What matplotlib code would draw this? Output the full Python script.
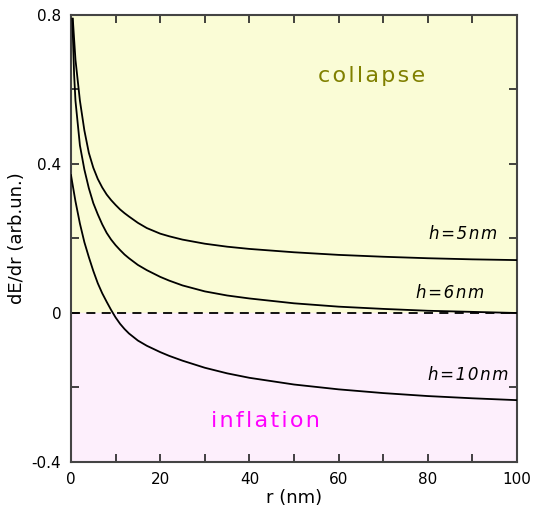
import numpy as np
import matplotlib.pyplot as plt

# dE/dr vs r for three shell thicknesses
r_h5 = [0.4, 1, 2, 3, 4, 5, 6, 7, 8, 9, 10, 11, 12, 13, 15, 17, 20, 22, 25, 30, 35, 40,
        50, 60, 70, 80, 90, 100]
dEdr_h5 = [0.79, 0.68, 0.57, 0.49, 0.43, 0.39, 0.36, 0.337, 0.318, 0.303, 0.29, 0.278,
           0.268, 0.259, 0.242, 0.228, 0.213, 0.206, 0.197, 0.186, 0.178, 0.172,
           0.163, 0.156, 0.151, 0.147, 0.144, 0.142]

r_h6 = [0.3, 0.7, 1, 2, 3, 4, 5, 6, 7, 8, 9, 10, 11, 12, 13, 15, 17, 20, 22, 25, 30, 35,
        40, 50, 60, 70, 80, 90, 100]
dEdr_h6 = [0.79, 0.64, 0.57, 0.45, 0.385, 0.335, 0.295, 0.265, 0.238, 0.215, 0.197, 0.182,
           0.169, 0.157, 0.147, 0.129, 0.115, 0.097, 0.087, 0.074, 0.058, 0.047,
           0.039, 0.026, 0.017, 0.011, 0.006, 0.003, 0.0]

r_h10 = [0, 1, 2, 3, 4, 5, 6, 7, 8, 9, 10, 11, 12, 13, 15, 17, 20, 22, 25, 30, 35, 40,
         50, 60, 70, 80, 90, 100]
dEdr_h10 = [0.37, 0.30, 0.24, 0.19, 0.15, 0.113, 0.08, 0.053, 0.03, 0.008, -0.012, -0.029,
            -0.043, -0.055, -0.074, -0.088, -0.105, -0.115, -0.128, -0.147, -0.162, -0.174,
            -0.192, -0.205, -0.215, -0.223, -0.229, -0.234]

curve_labels = ["h=5nm", "h=6nm", "h=10nm"]
label_pos = [(88, 0.212), (85, 0.055), (89, -0.166)]

xticks = [0, 10, 20, 30, 40, 50, 60, 70, 80, 90, 100]
yticks = [-0.4, -0.2, 0, 0.2, 0.4, 0.6, 0.8]

plt.rcParams['font.family'] = ['DejaVu Sans']

fig = plt.figure(figsize=(5.33, 5.17), dpi=100)
ax = fig.add_axes([0.1332, 0.1064, 0.8368, 0.8646])

ax.set_xlim(0, 100)
ax.set_ylim(-0.4, 0.8)

ax.axhspan(0, 0.8, color="#fafcd6", zorder=0)
ax.axhspan(-0.4, 0, color="#fdeffc", zorder=0)
ax.axhline(0, color="black", lw=1.3, ls=(0, (5, 3.5)), zorder=2)

for r, v in [(r_h5, dEdr_h5), (r_h6, dEdr_h6), (r_h10, dEdr_h10)]:
    ax.plot(r, v, color="black", lw=1.3, zorder=3, solid_joinstyle="round")

hs = "\u200a"
for lab, (x, y) in zip(curve_labels, label_pos):
    ax.text(x, y, hs.join(lab), fontsize=12, style="italic", ha="center", va="center")

ax.text(67.5, 0.636, hs.join("collapse"), color="#808000", fontsize=16, ha="center", va="center")
ax.text(43.5, -0.29, hs.join("inflation"), color="#ff00ff", fontsize=16, ha="center", va="center")

ax.set_xticks(xticks)
ax.set_xticklabels([str(t) if t % 20 == 0 else "" for t in xticks])
ax.set_yticks(yticks)
ax.set_yticklabels(["-0.4", "", "0", "", "0.4", "", "0.8"])
ax.tick_params(direction="in", length=6, width=1.2, top=True, right=True,
               labelsize=11, pad=7, color="#222222")

for s in ax.spines.values():
    s.set_color("#444444")
    s.set_linewidth(1.5)

ax.set_xlabel("r (nm)", fontsize=13, labelpad=2)
ax.set_ylabel("dE/dr (arb.un.)", fontsize=13, labelpad=4)

fig.savefig("out.png", dpi=100)
